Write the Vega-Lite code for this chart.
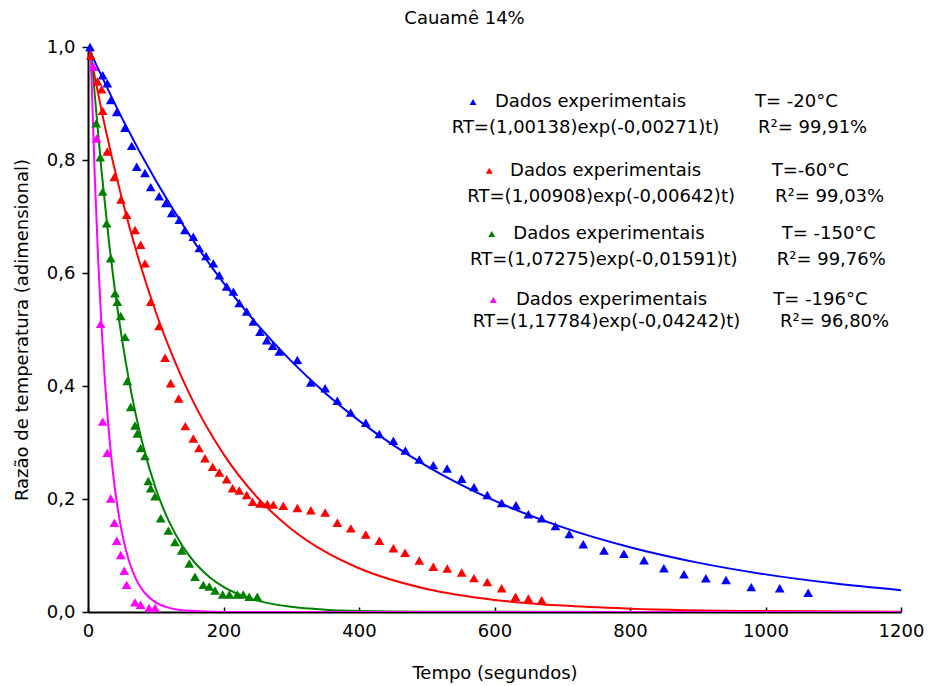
{
  "$schema": "https://vega.github.io/schema/vega-lite/v6.json",
  "width": 813,
  "height": 565,
  "autosize": "none",
  "padding": {"left": 88, "top": 47, "right": 27, "bottom": 74},
  "background": "white",
  "config": {
    "view": {"stroke": null},
    "font": "DejaVu Sans",
    "axis": {"grid": false, "domainColor": "black", "domainWidth": 2, "tickColor": "black", "tickWidth": 1.5, "labelColor": "black", "titleColor": "black", "labelFont": "DejaVu Sans", "titleFont": "DejaVu Sans", "labelFontSize": 18, "titleFontSize": 18, "titleFontWeight": "normal"}
  },
  "title": {"text": "Cauamê 14%", "fontSize": 18, "fontWeight": "normal", "font": "DejaVu Sans", "color": "black", "anchor": "middle", "dx": -30, "offset": 10},
  "datasets": {
    "curves": [
      {"s": "-20", "t": 0, "rt": 1.0},
      {"s": "-20", "t": 50, "rt": 0.8745},
      {"s": "-20", "t": 100, "rt": 0.7637},
      {"s": "-20", "t": 150, "rt": 0.6669},
      {"s": "-20", "t": 200, "rt": 0.5824},
      {"s": "-20", "t": 250, "rt": 0.5086},
      {"s": "-20", "t": 300, "rt": 0.4441},
      {"s": "-20", "t": 350, "rt": 0.3878},
      {"s": "-20", "t": 400, "rt": 0.3387},
      {"s": "-20", "t": 450, "rt": 0.2958},
      {"s": "-20", "t": 500, "rt": 0.2583},
      {"s": "-20", "t": 600, "rt": 0.1970},
      {"s": "-20", "t": 700, "rt": 0.1502},
      {"s": "-20", "t": 800, "rt": 0.1146},
      {"s": "-20", "t": 900, "rt": 0.0874},
      {"s": "-20", "t": 1000, "rt": 0.0666},
      {"s": "-20", "t": 1100, "rt": 0.0508},
      {"s": "-20", "t": 1200, "rt": 0.0387},
      {"s": "-60", "t": 1.4, "rt": 1.0},
      {"s": "-60", "t": 25, "rt": 0.8594},
      {"s": "-60", "t": 50, "rt": 0.7320},
      {"s": "-60", "t": 75, "rt": 0.6234},
      {"s": "-60", "t": 100, "rt": 0.5310},
      {"s": "-60", "t": 125, "rt": 0.4523},
      {"s": "-60", "t": 150, "rt": 0.3852},
      {"s": "-60", "t": 200, "rt": 0.2794},
      {"s": "-60", "t": 250, "rt": 0.2027},
      {"s": "-60", "t": 300, "rt": 0.1470},
      {"s": "-60", "t": 350, "rt": 0.1067},
      {"s": "-60", "t": 400, "rt": 0.0774},
      {"s": "-60", "t": 500, "rt": 0.0407},
      {"s": "-60", "t": 600, "rt": 0.0214},
      {"s": "-60", "t": 700, "rt": 0.0113},
      {"s": "-60", "t": 800, "rt": 0.0059},
      {"s": "-60", "t": 1000, "rt": 0.0016},
      {"s": "-60", "t": 1200, "rt": 0.0005},
      {"s": "-150", "t": 4.4, "rt": 1.0},
      {"s": "-150", "t": 10, "rt": 0.9150},
      {"s": "-150", "t": 20, "rt": 0.7804},
      {"s": "-150", "t": 30, "rt": 0.6656},
      {"s": "-150", "t": 40, "rt": 0.5677},
      {"s": "-150", "t": 50, "rt": 0.4842},
      {"s": "-150", "t": 60, "rt": 0.4130},
      {"s": "-150", "t": 70, "rt": 0.3523},
      {"s": "-150", "t": 80, "rt": 0.3005},
      {"s": "-150", "t": 100, "rt": 0.2186},
      {"s": "-150", "t": 120, "rt": 0.1590},
      {"s": "-150", "t": 140, "rt": 0.1157},
      {"s": "-150", "t": 160, "rt": 0.0841},
      {"s": "-150", "t": 180, "rt": 0.0612},
      {"s": "-150", "t": 200, "rt": 0.0445},
      {"s": "-150", "t": 250, "rt": 0.0201},
      {"s": "-150", "t": 300, "rt": 0.0091},
      {"s": "-150", "t": 350, "rt": 0.0041},
      {"s": "-150", "t": 400, "rt": 0.0018},
      {"s": "-150", "t": 500, "rt": 0.0004},
      {"s": "-150", "t": 1200, "rt": 0.0},
      {"s": "-196", "t": 3.9, "rt": 1.0},
      {"s": "-196", "t": 5, "rt": 0.9528},
      {"s": "-196", "t": 10, "rt": 0.7707},
      {"s": "-196", "t": 15, "rt": 0.6234},
      {"s": "-196", "t": 20, "rt": 0.5043},
      {"s": "-196", "t": 25, "rt": 0.4079},
      {"s": "-196", "t": 30, "rt": 0.3299},
      {"s": "-196", "t": 35, "rt": 0.2669},
      {"s": "-196", "t": 40, "rt": 0.2159},
      {"s": "-196", "t": 50, "rt": 0.1413},
      {"s": "-196", "t": 60, "rt": 0.0924},
      {"s": "-196", "t": 70, "rt": 0.0605},
      {"s": "-196", "t": 80, "rt": 0.0396},
      {"s": "-196", "t": 100, "rt": 0.0169},
      {"s": "-196", "t": 120, "rt": 0.0073},
      {"s": "-196", "t": 150, "rt": 0.0020},
      {"s": "-196", "t": 200, "rt": 0.0002},
      {"s": "-196", "t": 1200, "rt": 0.0}
    ],
    "points": [
      {"s": "-20", "t": 3, "rt": 1.0},
      {"s": "-20", "t": 21.7, "rt": 0.950},
      {"s": "-20", "t": 28.5, "rt": 0.936},
      {"s": "-20", "t": 33.5, "rt": 0.906},
      {"s": "-20", "t": 42.4, "rt": 0.885},
      {"s": "-20", "t": 54.6, "rt": 0.857},
      {"s": "-20", "t": 64.5, "rt": 0.825},
      {"s": "-20", "t": 71.9, "rt": 0.788},
      {"s": "-20", "t": 84.1, "rt": 0.777},
      {"s": "-20", "t": 92.5, "rt": 0.752},
      {"s": "-20", "t": 105, "rt": 0.736},
      {"s": "-20", "t": 115, "rt": 0.724},
      {"s": "-20", "t": 123.5, "rt": 0.706},
      {"s": "-20", "t": 134.8, "rt": 0.694},
      {"s": "-20", "t": 143, "rt": 0.676},
      {"s": "-20", "t": 155.4, "rt": 0.664},
      {"s": "-20", "t": 164.3, "rt": 0.644},
      {"s": "-20", "t": 174.2, "rt": 0.630},
      {"s": "-20", "t": 185, "rt": 0.617},
      {"s": "-20", "t": 193.8, "rt": 0.596},
      {"s": "-20", "t": 204.7, "rt": 0.576},
      {"s": "-20", "t": 214.5, "rt": 0.567},
      {"s": "-20", "t": 223.3, "rt": 0.547},
      {"s": "-20", "t": 234.2, "rt": 0.532},
      {"s": "-20", "t": 244, "rt": 0.514},
      {"s": "-20", "t": 253.9, "rt": 0.496},
      {"s": "-20", "t": 263.8, "rt": 0.481},
      {"s": "-20", "t": 272.6, "rt": 0.471},
      {"s": "-20", "t": 282.4, "rt": 0.461},
      {"s": "-20", "t": 309, "rt": 0.446},
      {"s": "-20", "t": 328.7, "rt": 0.406},
      {"s": "-20", "t": 350, "rt": 0.396},
      {"s": "-20", "t": 368, "rt": 0.374},
      {"s": "-20", "t": 387.7, "rt": 0.353},
      {"s": "-20", "t": 410, "rt": 0.335},
      {"s": "-20", "t": 430, "rt": 0.315},
      {"s": "-20", "t": 450.7, "rt": 0.303},
      {"s": "-20", "t": 468.4, "rt": 0.286},
      {"s": "-20", "t": 489, "rt": 0.270},
      {"s": "-20", "t": 509.7, "rt": 0.260},
      {"s": "-20", "t": 530, "rt": 0.254},
      {"s": "-20", "t": 551.5, "rt": 0.236},
      {"s": "-20", "t": 569.7, "rt": 0.221},
      {"s": "-20", "t": 589.4, "rt": 0.207},
      {"s": "-20", "t": 610.6, "rt": 0.193},
      {"s": "-20", "t": 631.7, "rt": 0.189},
      {"s": "-20", "t": 650, "rt": 0.173},
      {"s": "-20", "t": 669.6, "rt": 0.166},
      {"s": "-20", "t": 690, "rt": 0.152},
      {"s": "-20", "t": 710.4, "rt": 0.138},
      {"s": "-20", "t": 731, "rt": 0.120},
      {"s": "-20", "t": 761.6, "rt": 0.109},
      {"s": "-20", "t": 791, "rt": 0.103},
      {"s": "-20", "t": 820.7, "rt": 0.0915},
      {"s": "-20", "t": 850, "rt": 0.0773},
      {"s": "-20", "t": 879.7, "rt": 0.0667},
      {"s": "-20", "t": 912, "rt": 0.0596},
      {"s": "-20", "t": 941.7, "rt": 0.0566},
      {"s": "-20", "t": 979, "rt": 0.044},
      {"s": "-20", "t": 1021, "rt": 0.042},
      {"s": "-20", "t": 1063, "rt": 0.034},
      {"s": "-60", "t": 4, "rt": 0.985},
      {"s": "-60", "t": 14, "rt": 0.939},
      {"s": "-60", "t": 20, "rt": 0.925},
      {"s": "-60", "t": 21.6, "rt": 0.887},
      {"s": "-60", "t": 28.5, "rt": 0.815},
      {"s": "-60", "t": 38.9, "rt": 0.770},
      {"s": "-60", "t": 48.7, "rt": 0.730},
      {"s": "-60", "t": 57, "rt": 0.703},
      {"s": "-60", "t": 69.4, "rt": 0.676},
      {"s": "-60", "t": 77.7, "rt": 0.650},
      {"s": "-60", "t": 84.1, "rt": 0.617},
      {"s": "-60", "t": 92.5, "rt": 0.549},
      {"s": "-60", "t": 104.8, "rt": 0.506},
      {"s": "-60", "t": 113.7, "rt": 0.450},
      {"s": "-60", "t": 122, "rt": 0.405},
      {"s": "-60", "t": 133.8, "rt": 0.378},
      {"s": "-60", "t": 143.6, "rt": 0.329},
      {"s": "-60", "t": 155.4, "rt": 0.307},
      {"s": "-60", "t": 163.8, "rt": 0.290},
      {"s": "-60", "t": 172.7, "rt": 0.272},
      {"s": "-60", "t": 184, "rt": 0.257},
      {"s": "-60", "t": 193.8, "rt": 0.247},
      {"s": "-60", "t": 204.7, "rt": 0.235},
      {"s": "-60", "t": 213.5, "rt": 0.219},
      {"s": "-60", "t": 223.3, "rt": 0.215},
      {"s": "-60", "t": 234.2, "rt": 0.207},
      {"s": "-60", "t": 243, "rt": 0.195},
      {"s": "-60", "t": 253.9, "rt": 0.192},
      {"s": "-60", "t": 264.7, "rt": 0.191},
      {"s": "-60", "t": 273.5, "rt": 0.190},
      {"s": "-60", "t": 288.3, "rt": 0.188},
      {"s": "-60", "t": 309, "rt": 0.184},
      {"s": "-60", "t": 329, "rt": 0.180},
      {"s": "-60", "t": 350, "rt": 0.176},
      {"s": "-60", "t": 368, "rt": 0.158},
      {"s": "-60", "t": 388, "rt": 0.148},
      {"s": "-60", "t": 410, "rt": 0.137},
      {"s": "-60", "t": 430, "rt": 0.126},
      {"s": "-60", "t": 450.7, "rt": 0.113},
      {"s": "-60", "t": 468, "rt": 0.105},
      {"s": "-60", "t": 489, "rt": 0.091},
      {"s": "-60", "t": 509.7, "rt": 0.080},
      {"s": "-60", "t": 530.3, "rt": 0.077},
      {"s": "-60", "t": 551.6, "rt": 0.070},
      {"s": "-60", "t": 569.7, "rt": 0.060},
      {"s": "-60", "t": 589.4, "rt": 0.053},
      {"s": "-60", "t": 610.6, "rt": 0.042},
      {"s": "-60", "t": 631, "rt": 0.027},
      {"s": "-60", "t": 650, "rt": 0.024},
      {"s": "-60", "t": 669.6, "rt": 0.021},
      {"s": "-150", "t": 12, "rt": 0.865},
      {"s": "-150", "t": 18, "rt": 0.805},
      {"s": "-150", "t": 21.6, "rt": 0.744},
      {"s": "-150", "t": 27.6, "rt": 0.688},
      {"s": "-150", "t": 33.5, "rt": 0.626},
      {"s": "-150", "t": 39.9, "rt": 0.564},
      {"s": "-150", "t": 43.3, "rt": 0.549},
      {"s": "-150", "t": 48.3, "rt": 0.524},
      {"s": "-150", "t": 54.6, "rt": 0.487},
      {"s": "-150", "t": 58, "rt": 0.409},
      {"s": "-150", "t": 63, "rt": 0.363},
      {"s": "-150", "t": 69.4, "rt": 0.330},
      {"s": "-150", "t": 72.8, "rt": 0.316},
      {"s": "-150", "t": 77.7, "rt": 0.290},
      {"s": "-150", "t": 84.1, "rt": 0.276},
      {"s": "-150", "t": 89, "rt": 0.232},
      {"s": "-150", "t": 92.5, "rt": 0.219},
      {"s": "-150", "t": 98.9, "rt": 0.205},
      {"s": "-150", "t": 107.3, "rt": 0.166},
      {"s": "-150", "t": 118.6, "rt": 0.144},
      {"s": "-150", "t": 128.4, "rt": 0.124},
      {"s": "-150", "t": 138.3, "rt": 0.109},
      {"s": "-150", "t": 149.5, "rt": 0.086},
      {"s": "-150", "t": 157.9, "rt": 0.0625},
      {"s": "-150", "t": 170.2, "rt": 0.048},
      {"s": "-150", "t": 179, "rt": 0.045},
      {"s": "-150", "t": 187.5, "rt": 0.038},
      {"s": "-150", "t": 198.8, "rt": 0.031},
      {"s": "-150", "t": 208.6, "rt": 0.031},
      {"s": "-150", "t": 220.4, "rt": 0.031},
      {"s": "-150", "t": 229.2, "rt": 0.031},
      {"s": "-150", "t": 238, "rt": 0.027},
      {"s": "-150", "t": 249.9, "rt": 0.027},
      {"s": "-196", "t": 8, "rt": 0.965},
      {"s": "-196", "t": 12.8, "rt": 0.838},
      {"s": "-196", "t": 18.7, "rt": 0.510},
      {"s": "-196", "t": 21.7, "rt": 0.337},
      {"s": "-196", "t": 28.5, "rt": 0.282},
      {"s": "-196", "t": 33.5, "rt": 0.201},
      {"s": "-196", "t": 38.9, "rt": 0.158},
      {"s": "-196", "t": 42.4, "rt": 0.126},
      {"s": "-196", "t": 48.3, "rt": 0.101},
      {"s": "-196", "t": 53.5, "rt": 0.073},
      {"s": "-196", "t": 57, "rt": 0.048},
      {"s": "-196", "t": 69.4, "rt": 0.017},
      {"s": "-196", "t": 77.7, "rt": 0.013},
      {"s": "-196", "t": 90, "rt": 0.007},
      {"s": "-196", "t": 99, "rt": 0.007}
    ],
    "legendSymbols": [
      {"s": "-20", "t": 568.3, "rt": 0.9027},
      {"s": "-60", "t": 592.3, "rt": 0.781},
      {"s": "-150", "t": 595.9, "rt": 0.669},
      {"s": "-196", "t": 598.2, "rt": 0.552}
    ],
    "legendText": [
      {"t": 600.7, "rt": 0.9027, "txt": "Dados experimentais"},
      {"t": 984.5, "rt": 0.9027, "txt": "T= -20°C"},
      {"t": 536.8, "rt": 0.8566, "txt": "RT=(1,00138)exp(-0,00271)t)"},
      {"t": 989, "rt": 0.8566, "txt": "R²= 99,91%"},
      {"t": 622.9, "rt": 0.781, "txt": "Dados experimentais"},
      {"t": 1009.1, "rt": 0.781, "txt": "T=-60°C"},
      {"t": 559.9, "rt": 0.7345, "txt": "RT=(1,00908)exp(-0,00642)t)"},
      {"t": 1014, "rt": 0.7345, "txt": "R²= 99,03%"},
      {"t": 627.8, "rt": 0.669, "txt": "Dados experimentais"},
      {"t": 1023.9, "rt": 0.669, "txt": "T= -150°C"},
      {"t": 563.8, "rt": 0.623, "txt": "RT=(1,07275)exp(-0,01591)t)"},
      {"t": 1016.5, "rt": 0.623, "txt": "R²= 99,76%"},
      {"t": 631.7, "rt": 0.552, "txt": "Dados experimentais"},
      {"t": 1011.5, "rt": 0.552, "txt": "T= -196°C"},
      {"t": 567.8, "rt": 0.5133, "txt": "RT=(1,17784)exp(-0,04242)t)"},
      {"t": 1021.4, "rt": 0.5133, "txt": "R²= 96,80%"}
    ]
  },
  "encoding": {
    "x": {"field": "t", "type": "quantitative", "scale": {"domain": [0, 1200], "nice": false, "zero": false},
      "axis": {"title": "Tempo (segundos)", "values": [0, 200, 400, 600, 800, 1000, 1200], "format": "d", "tickSize": -5, "labelPadding": 15, "titlePadding": 24, "labelFlush": false}},
    "y": {"field": "rt", "type": "quantitative", "scale": {"domain": [0, 1], "nice": false},
      "axis": {"title": "Razão de temperatura (adimensional)", "values": [0, 0.2, 0.4, 0.6, 0.8, 1.0], "tickSize": 6, "labelPadding": 7, "titlePadding": 15, "labelFlush": false,
        "labelExpr": "replace(format(datum.value, '.1f'), '.', ',')"}}
  },
  "layer": [
    {
      "data": {"name": "curves"},
      "mark": {"type": "line", "strokeWidth": 2, "interpolate": "monotone", "clip": true},
      "encoding": {
        "color": {"field": "s", "type": "nominal", "scale": {"domain": ["-20", "-60", "-150", "-196"], "range": ["#0000FF", "#FF0000", "#008000", "#FF00FF"]}, "legend": null},
        "detail": {"field": "s"}
      }
    },
    {
      "data": {"name": "points"},
      "mark": {"type": "point", "shape": "triangle-up", "filled": true, "opacity": 1, "size": 95},
      "encoding": {
        "color": {"field": "s", "type": "nominal", "legend": null}
      }
    },
    {
      "data": {"name": "legendSymbols"},
      "mark": {"type": "point", "shape": "triangle-up", "filled": true, "opacity": 1, "size": 48},
      "encoding": {
        "color": {"field": "s", "type": "nominal", "legend": null}
      }
    },
    {
      "data": {"name": "legendText"},
      "mark": {"type": "text", "align": "left", "baseline": "middle", "fontSize": 18, "font": "DejaVu Sans", "color": "black"},
      "encoding": {
        "text": {"field": "txt", "type": "nominal"}
      }
    }
  ]
}
